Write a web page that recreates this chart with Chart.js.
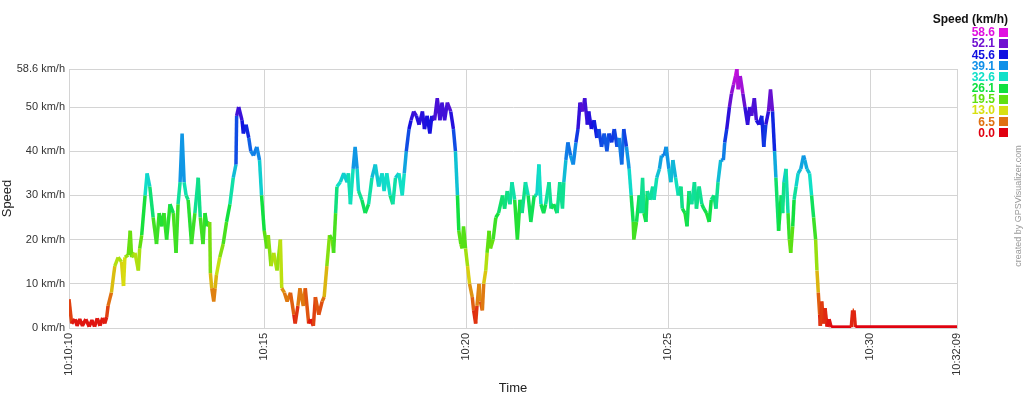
<!DOCTYPE html>
<html><head><meta charset="utf-8">
<script src="https://cdn.jsdelivr.net/npm/chart.js@4/dist/chart.umd.min.js"></script>
<style>
body{margin:0;background:#fff;}
#wrap{position:relative;width:1024px;height:398px;overflow:hidden;font-family:Arial,"Liberation Sans",sans-serif;}
#c{position:absolute;left:0;top:0;}
.lg{position:absolute;font-weight:bold;font-size:12px;line-height:12px;white-space:nowrap;}
.sq{position:absolute;width:9px;height:9px;}
#wm{position:absolute;left:1018px;top:206px;transform:translate(-50%,-50%) rotate(-90deg);font-size:9px;color:#999;white-space:nowrap;}
</style></head>
<body><div id="wrap"><canvas id="c" width="1024" height="398"></canvas>
<div class="lg" id="lgTitle" style="right:16px;top:13px;color:#111;">Speed (km/h)</div>
<div id="wm">created by GPSVisualizer.com</div>
</div>
<script>
// elapsed seconds since 10:10:10
const elapsedSec = [0,4,9,12,16,20,25,30,34,38,42,46,50,53,56,58,63,68,73,78,81,83,88,91,93,98,103,105,108,113,116,120,125,130,134,138,141,145,150,155,159,162,165,168,171,174,177,182,187,192,195,199,202,205,209,210,212,215,217,219,224,229,234,239,244,248,249,252,257,259,263,267,270,274,279,283,286,290,294,296,300,304,309,314,316,320,324,329,334,336,340,343,348,351,356,359,363,366,371,376,379,383,387,391,393,396,398,403,408,413,415,418,422,425,428,430,435,440,445,450,455,460,465,468,472,477,481,485,490,495,498,501,505,508,512,516,520,525,528,532,536,539,543,547,551,554,558,562,567,571,574,577,579,582,584,586,589,592,595,599,601,604,606,609,611,614,616,619,621,624,626,630,634,638,644,647,651,655,658,662,666,670,673,678,682,686,691,695,698,701,705,708,713,716,720,725,729,733,735,738,741,745,749,753,756,759,763,766,770,772,776,780,784,787,791,795,799,802,806,810,814,817,821,824,828,832,835,838,839,843,847,849,852,854,857,859,863,867,869,873,877,880,884,887,891,894,897,901,905,909,911,915,918,921,925,929,932,936,940,943,947,951,954,958,961,964,968,972,974,977,981,984,987,990,992,994,997,1001,1004,1008,1011,1014,1018,1021,1025,1029,1032,1035,1039,1042,1045,1048,1050,1054,1058,1060,1062,1065,1068,1070,1072,1075,1077,1080,1083,1087,1091,1093,1096,1100,1103,1106,1109,1111,1113,1115,1116,1118,1121,1123,1126,1129,1132,1162,1164,1166,1168,1319];
const speedKmh = [6.5,1,2,0.5,2,0.5,2,0.3,1.8,0.3,2.2,0.5,2.3,1,2.5,5,8,14,16,15,9.5,16,16.5,22,16,17,13,18,21,30,35,32,25,19,26,23,26,20,28,26,17,28,33,44,33,30,29,19,26,34,25,19,26,23,24,12.4,9,6,9,12,16,19,24,28,34,37,48,50,47,44,46,43,40,39,41,38,30,22,18,21,14,17,13,20,9,8,6,8,3,1,5,9,5,9,1,2,0.5,7,3,6,7,14,21,20,17,26,32,33,35,33,35,28,36,41,36,31,29,26,28,34,37,32,35,31,35,30,28,34,35,30,35,40,45,47,49,48,46,49,45,48,44,48,47,52,47,51,47,51,49,45,40,30,22,19,18,23,18,14,10,7,4,1,5,10,6,4,10,13,17,22,18,20,25,26,30,27,31,28,33,29,20,29,26,33,30,24,30,30,37,28,26,28,33,27,28,26,33,27,33,38,42,39,37,42,45,51,49,52,46,49,45,47,43,45,41,44,40,44,42,45,41,43,37,45,41,36,30,24,20,24,30,26,34,26,24,31,29,32,29,34,36,39,39,41,36,33,38,34,30,32,27,26,23,31,28,33,27,32,28,27,26,24,29,30,27,33,38,38,42,45,50,53,55,57,58.6,54,57,53,50,46,50,48,52,47,46,48,41,46,49,54,49,40,34,22,30,26,33,36,26,20,17,23,29,32,35,36,39,38,36,35,30,25,20,13,8,3,0.5,6,1,4.5,0.3,2,0.2,0.2,4,4,0.2,0.2];
const xTickSecs = [0,290,590,890,1190,1319];
const xTickLabels = ["10:10:10","10:15","10:20","10:25","10:30","10:32:09"];
const yTickValues = [0,10,20,30,40,50,58.6];
const legendValues = [58.6,52.1,45.6,39.1,32.6,26.1,19.5,13.0,6.5,0.0];
const legendColors = ["#e010e0","#7010d0","#1010e0","#1090e8","#10e0c8","#10e040","#60e010","#d8e010","#e07010","#e00010"];

// legend
const wrap = document.getElementById('wrap');
legendValues.forEach((v,i)=>{
  const cy = 32.3 + i*11.15;
  const t = document.createElement('div');
  t.className='lg'; t.textContent=v.toFixed(1);
  t.style.right='29px'; t.style.top=(cy-6)+'px'; t.style.color=legendColors[i];
  wrap.appendChild(t);
  const s = document.createElement('div');
  s.className='sq'; s.style.left='999px'; s.style.top=(cy-4.5)+'px'; s.style.background=legendColors[i];
  wrap.appendChild(s);
});

function hexToRgb(h){return [parseInt(h.substr(1,2),16),parseInt(h.substr(3,2),16),parseInt(h.substr(5,2),16)];}
const stops = legendValues.map((v,i)=>({v, c:hexToRgb(legendColors[i])})).sort((a,b)=>a.v-b.v);
function colorFor(val){
  if (val<=stops[0].v) return 'rgb('+stops[0].c.join(',')+')';
  for (let i=1;i<stops.length;i++){
    if (val<=stops[i].v){
      const a=stops[i-1], b=stops[i], f=(val-a.v)/(b.v-a.v);
      const c=a.c.map((x,k)=>Math.round(x+(b.c[k]-x)*f));
      return 'rgb('+c.join(',')+')';
    }
  }
  return 'rgb('+stops[stops.length-1].c.join(',')+')';
}

const points = elapsedSec.map((t,i)=>({x:t,y:speedKmh[i]}));
const gridColor = '#d4d4d4';
new Chart(document.getElementById('c'), {
  type:'line',
  data:{datasets:[{
    data:points, borderWidth:3.5, pointRadius:0, tension:0, fill:false,
    borderColor:'#e00010', borderJoinStyle:'bevel',
    segment:{borderColor: ctx => colorFor((ctx.p0.parsed.y+ctx.p1.parsed.y)/2)}
  }]},
  options:{
    responsive:false, animation:false,
    layout:{padding:{left:0,top:69,right:67,bottom:0}},
    plugins:{legend:{display:false}, tooltip:{enabled:false}},
    scales:{
      x:{type:'linear', min:0, max:1319,
        afterBuildTicks: s => { s.ticks = xTickSecs.map(v=>({value:v})); },
        afterFit: s => { s.height = 70; },
        ticks:{autoSkip:false, maxRotation:90, minRotation:90, padding:5, color:'#333',
          font:{family:'Arial, "Liberation Sans", sans-serif', size:11},
          callback: v => { const i = xTickSecs.indexOf(v); return i>=0 ? xTickLabels[i] : ''; }},
        grid:{color:gridColor, drawTicks:false},
        border:{color:gridColor},
        title:{display:true, text:'Time', color:'#222', padding:{top:0,bottom:2},
          font:{family:'Arial, "Liberation Sans", sans-serif', size:13}}
      },
      y:{type:'linear', min:0, max:58.6,
        afterBuildTicks: s => { s.ticks = yTickValues.map(v=>({value:v})); },
        afterFit: s => { s.width = 69; },
        ticks:{padding:4, color:'#333',
          font:{family:'Arial, "Liberation Sans", sans-serif', size:11},
          callback: v => v + ' km/h'},
        grid:{color:gridColor, drawTicks:false},
        border:{color:gridColor},
        title:{display:true, text:'Speed', color:'#222', padding:{top:0,bottom:0},
          font:{family:'Arial, "Liberation Sans", sans-serif', size:13}}
      }
    }
  }
});
</script></body></html>
